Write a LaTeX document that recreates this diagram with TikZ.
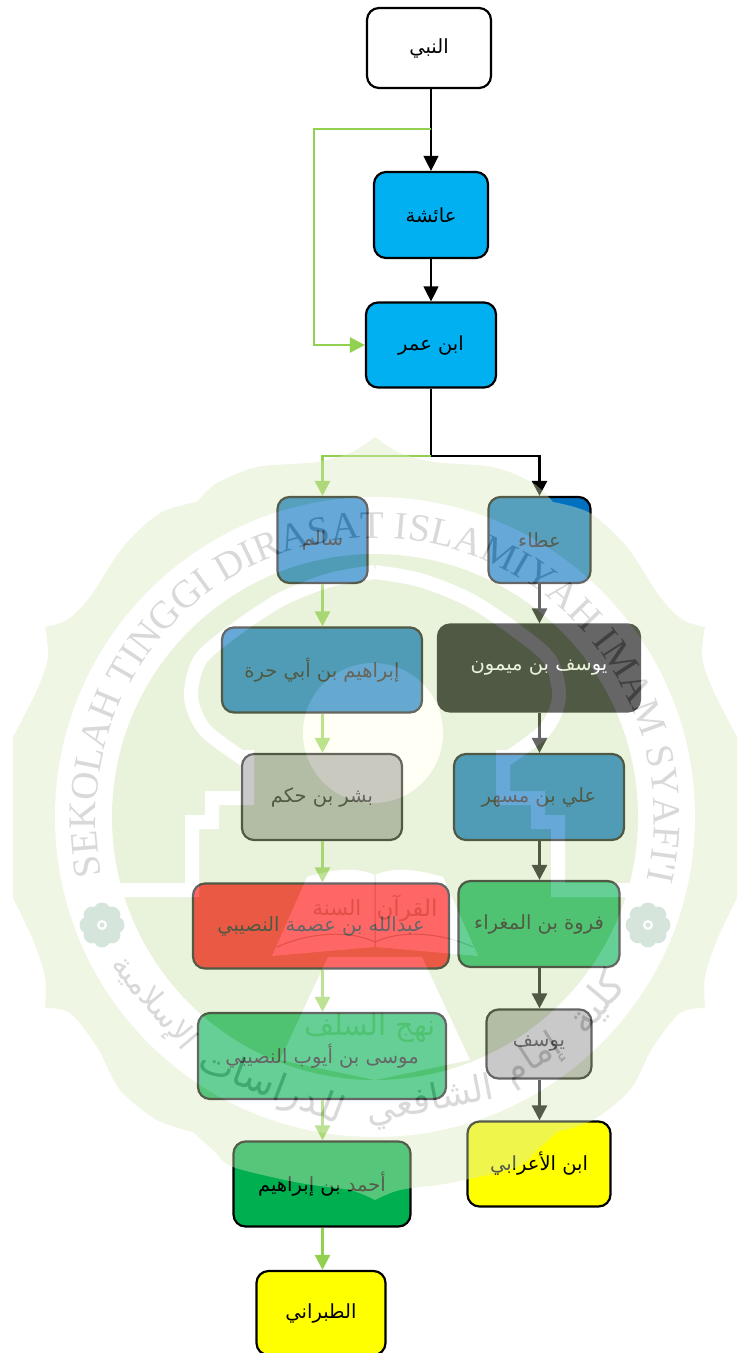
\documentclass[tikz,border=0pt]{standalone}
\usepackage{fontspec}
\usepackage{xcolor}
\usepackage{tikz}
\usetikzlibrary{
  arrows.meta,
  calc,
  decorations.text
}
\TeXXeTstate=1
\newfontfamily\arabicfont[Script=Arabic]{DejaVu Sans}
\newfontfamily\sealfont{Liberation Serif}
\newcommand{\artext}[1]{{\arabicfont\beginR #1\endR}}
\definecolor{skyfill}{HTML}{00B0F0}
\definecolor{deepblue}{HTML}{0070C0}
\definecolor{leafgreen}{HTML}{00B050}
\definecolor{midgrey}{HTML}{A6A6A6}
\definecolor{redfill}{HTML}{FF0000}
\definecolor{yellowfill}{HTML}{FFFF00}
\definecolor{linegreen}{HTML}{92D050}
\definecolor{sealouter}{HTML}{D9E8BB}
\definecolor{sealinner}{HTML}{C8E0A8}
\definecolor{sealtext}{HTML}{A0A0A0}
\definecolor{sealflower}{HTML}{96BEA8}
\definecolor{sealbook}{HTML}{B4C8B4}
\definecolor{sealcream}{HTML}{FFFFE8}
\tikzset{
  chain/.style={
    font=\fontsize{19.5}{22}\selectfont,
    draw=black,
    line width=2.2pt,
    rounded corners=12pt,
    inner sep=0pt,
    text=black},
  thinline/.style={
    line width=1.2pt,
    -{Triangle[width=15pt,length=15pt]}},
  blackline/.style={
    line width=2.6pt,
    -{Triangle[width=15pt,length=15pt]}},
  greenline/.style={
    color=linegreen,
    line width=2.6pt,
    -{Triangle[width=15pt,length=15pt]}},
  sealmirror/.style={
    xshift=750pt,
    xscale=-1}
}
\newcommand{\sealhalf}{
  \fill[sealouter]
    plot[smooth] coordinates {(375,-437) (352,-452) (317,-462) (257,-467) (217,-483) (197,-502)}
    -- plot[smooth] coordinates {(197,-502) (160,-513) (123,-547) (90,-597) (67,-620) (45,-627)}
    -- plot[smooth] coordinates {(45,-627) (48,-657) (37,-690) (13,-737)}
    -- (13,-898)
    -- plot[smooth] coordinates {(13,-898) (33,-940) (45,-977) (45,-1008)}
    -- plot[smooth] coordinates {(45,-1008) (70,-1013) (97,-1047) (120,-1090) (157,-1120) (193,-1132)}
    -- plot[smooth] coordinates {(193,-1132) (213,-1150) (233,-1167) (300,-1183) (350,-1190) (375,-1200)}
    -- cycle;
}
\newcommand{\sealdetail}{
  % dome, stairs and floor
  \draw[white,line width=14pt]
    plot[smooth] coordinates {(375,-572) (330,-580) (280,-600) (232,-632) (200,-660) (191,-697) (205,-730) (245,-760)};
  \draw[white,line width=14pt]
    (247,-750) -- (247,-798) -- (212,-798) -- (212,-822) -- (192,-822) -- (192,-890) -- (112,-890);
  % book page
  \fill[white]
    (307,-877) .. controls (330,-870) and (355,-866) .. (375,-875)
    -- (375,-947) -- (272,-956) -- cycle;
  \draw[sealbook,line width=1pt]
    (277,-947) .. controls (310,-932) and (350,-930) .. (375,-942);
  % flower
  \foreach \petal in {0,45,...,315}
    \fill[sealflower] ($(102,-925)+(\petal:14)$) circle (8.5pt);
  \fill[sealflower] (102,-925) circle (14pt);
  \fill[white] (102,-925) circle (5pt);
  \fill[sealflower] (102,-925) circle (2.5pt);
}
\begin{document}
\begin{tikzpicture}[x=1pt,y=1pt]
  \useasboundingbox (0,0) rectangle (739,-1353);
  \node[chain,fill=white,minimum width=124pt,minimum height=80pt] (nabi) at (429,-48) {\artext{النبي}};
  \node[chain,fill=skyfill,minimum width=114pt,minimum height=86pt] (aisha) at (431,-215) {\artext{عائشة}};
  \node[chain,fill=skyfill,minimum width=130pt,minimum height=85pt] (ibnumar) at (431,-345) {\artext{ابن عمر}};
  \node[chain,fill=deepblue,minimum width=90pt,minimum height=86pt] (salim) at (322.5,-540) {\artext{سالم}};
  \node[chain,fill=deepblue,minimum width=102pt,minimum height=86pt] (ata) at (539.5,-540) {\artext{عطاء}};
  \node[chain,fill=deepblue,minimum width=200pt,minimum height=85pt] (ibrahim) at (322,-670) {\artext{إبراهيم بن أبي حرة}};
  \node[chain,fill=black,text=white,minimum width=202pt,minimum height=87pt] (yusufm) at (539,-668) {\artext{يوسف بن ميمون}};
  \node[chain,fill=midgrey,minimum width=160pt,minimum height=86pt] (bishr) at (322,-797) {\artext{بشر بن حكم}};
  \node[chain,fill=deepblue,minimum width=170pt,minimum height=86pt] (ali) at (539,-797) {\artext{علي بن مسهر}};
  \node[chain,fill=redfill,minimum width=256pt,minimum height=85pt] (abdullah) at (321,-926) {\artext{عبدالله بن عصمة النصيبي}};
  \node[chain,fill=leafgreen,minimum width=161pt,minimum height=86pt] (farwah) at (539,-924) {\artext{فروة بن المغراء}};
  \node[chain,fill=leafgreen,minimum width=248pt,minimum height=86pt] (musa) at (322,-1056) {\artext{موسى بن أيوب النصيبي}};
  \node[chain,fill=midgrey,minimum width=105pt,minimum height=69pt] (yusuf) at (539,-1044) {\artext{يوسف}};
  \node[chain,fill=leafgreen,minimum width=177pt,minimum height=85pt] (ahmad) at (322,-1184) {\artext{أحمد بن إبراهيم}};
  \node[chain,fill=yellowfill,minimum width=143pt,minimum height=85pt] (ibnarabi) at (539,-1164) {\artext{ابن الأعرابي}};
  \node[chain,fill=yellowfill,minimum width=129pt,minimum height=84pt] (tabrani) at (321,-1313) {\artext{الطبراني}};

  \coordinate (fork) at (431,-129);
  \coordinate (leftbend) at (314,-129);
  \coordinate (split) at (431,-456);
  \draw[thinline] (nabi.south -| aisha.north) -- (aisha.north);
  \draw[thinline] (aisha) -- (ibnumar);
  \draw[greenline] (fork) -- (leftbend) |- (ibnumar.west);
  \draw[line width=1.2pt] (ibnumar.south) -- (split);
  \draw[blackline] (split) -| (ata.north);
  \draw[greenline] (split) -| (salim.north);
  \foreach \from/\to in {ata/yusufm,yusufm/ali,ali/farwah,farwah/yusuf,yusuf/ibnarabi}
    \draw[blackline] (\from.south -| ata.north) -- (\to.north -| ata.north);
  \foreach \from/\to in {salim/ibrahim,ibrahim/bishr,bishr/abdullah,abdullah/musa,musa/ahmad,ahmad/tabrani}
    \draw[greenline] (\from.south -| salim.north) -- (\to.north -| salim.north);

  \begin{scope}[transparency group,opacity=0.4]
    \coordinate (sealc) at (375,-817);
    \sealhalf
    \begin{scope}[sealmirror]
      \sealhalf
    \end{scope}
    \draw[sealouter,line width=1pt] (375,-440) -- (375,-1197);
    \fill[white] (sealc) circle (320pt);
    \fill[sealinner] (sealc) circle (263pt);
    \fill[white] (328,-957) -- (422,-957) -- (470,-1060) -- (375,-1080) -- (280,-1060) -- cycle;
    \fill[sealcream] (373,-733) circle (70pt);
    \sealdetail
    \begin{scope}[sealmirror]
      \sealdetail
    \end{scope}
    \draw[sealbook,line width=1pt] (375,-875) -- (375,-947);
    \path[decorate,decoration={text along path,text align=fit to path,
      text={|\sealfont\fontsize{39}{39}\selectfont\color{sealtext}|SEKOLAH TINGGI DIRASAT ISLAMIYAH IMAM SYAFI'I}}]
      ($(sealc)+(192:279)$) arc[start angle=192,end angle=-13,radius=279pt];
    \foreach \word/\ang/\size [count=\i] in {كلية/-40/40,إمام/-57/36,الشافعي/-79/36,للدراسات/-111/38,الإسلامية/-140/31}
      \node[text=sealtext,font=\fontsize{\size}{40}\selectfont,rotate=\ang+90,inner sep=0pt] (word\i) at ($(sealc)+(\ang:290)$) {\artext{\word}};
    \node[text=sealbook,font=\fontsize{23}{26}\selectfont,inner sep=0pt] (quran) at (407,-908) {\artext{القرآن}};
    \node[text=sealbook,font=\fontsize{21}{24}\selectfont,inner sep=0pt] (sunnah) at (337,-908) {\artext{السنة}};
    \node[text=sealinner,font=\fontsize{29}{32}\selectfont,inner sep=0pt] (manhaj) at (370,-1028) {\artext{نهج السلف}};
  \end{scope}
\end{tikzpicture}
\end{document}
